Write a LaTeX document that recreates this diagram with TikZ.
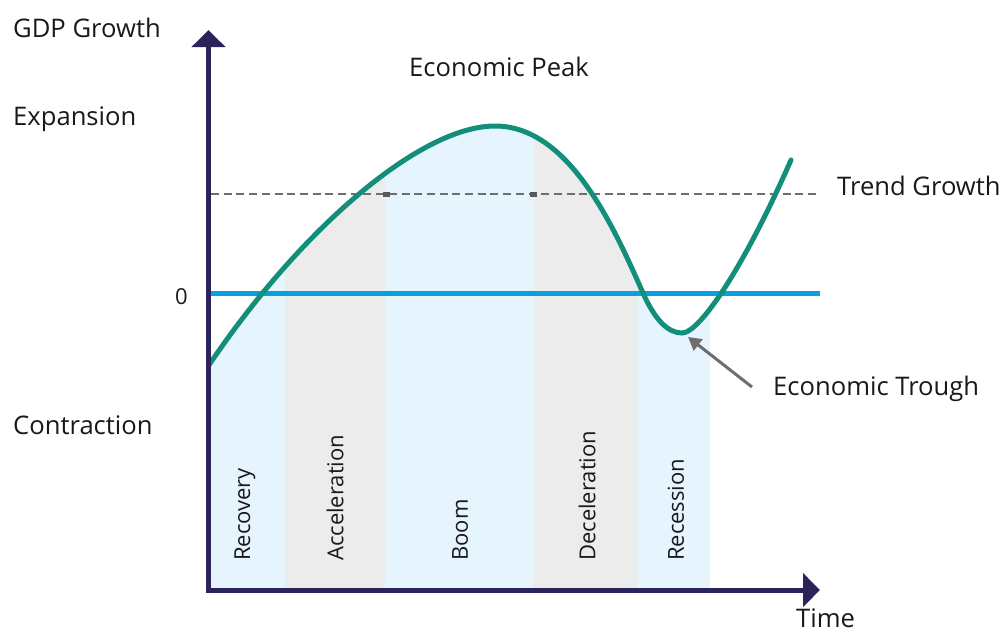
\documentclass[tikz,border=0pt]{standalone}
\usepackage{fontspec}
\setmainfont{Open Sans}
\usetikzlibrary{arrows.meta}
\definecolor{axisc}{RGB}{43,36,90}
\definecolor{tealc}{RGB}{19,142,122}
\definecolor{zeroc}{RGB}{10,160,224}
\definecolor{bandblue}{RGB}{230,244,253}
\definecolor{bandgray}{RGB}{236,236,236}
\definecolor{dashc}{RGB}{110,110,110}
\definecolor{txt}{RGB}{25,25,25}
\tikzset{
  lbl/.style={font=\fontsize{25.6}{30}\selectfont, text=txt, inner sep=0pt, anchor=base west},
  phase/.style={font=\fontsize{22}{26}\selectfont, text=txt, inner sep=0pt, rotate=90, anchor=west},
  axisline/.style={draw=axisc, line width=5pt, line join=miter,
     {Triangle[width=33pt,length=17pt]}-{Triangle[width=33pt,length=17pt]}},
  curve/.style={draw=tealc, line width=5pt, line cap=round},
}
\begin{document}
\begin{tikzpicture}[x=1pt,y=-1pt]
\useasboundingbox (0,0) rectangle (1003,632);
% bands clipped under the curve
\begin{scope}
\clip (209,365) .. controls (300,230) and (420,126) .. (495,126)
  .. controls (570,126) and (615,230) .. (643,293)
  .. controls (655,320) and (668,333) .. (682,333)
  .. controls (700,333) and (745,265) .. (791,160)
  -- (791,590) -- (209,590) -- cycle;
\fill[bandblue] (209,100) rectangle (285,590);
\fill[bandgray] (285,100) rectangle (385,590);
\fill[bandblue] (385,100) rectangle (534,590);
\fill[bandgray] (534,100) rectangle (638,590);
\fill[bandblue] (638,100) rectangle (710,590);
\end{scope}
% reference lines
\coordinate (trendL) at (211,194);
\coordinate (trendR) at (820,194);
\coordinate (zeroL) at (211,293);
\coordinate (zeroR) at (820,293);
\draw[dashc, line width=2pt, dash pattern=on 8pt off 4.7pt] (trendL) -- (trendR);
\fill[dashc!80!black] (383,191.5) rectangle (390,196.5);
\fill[dashc!80!black] (530,191.5) rectangle (537,196.5);
\draw[zeroc, line width=5pt] (zeroL) -- (zeroR);
% curve
\path[curve] (209,365) .. controls (300,230) and (420,126) .. (495,126)
  .. controls (570,126) and (615,230) .. (643,293)
  .. controls (655,320) and (668,333) .. (682,333)
  .. controls (700,333) and (745,265) .. (791,160);
% axes
\coordinate (ytip) at (208.5,30);
\coordinate (origin) at (208.5,590);
\coordinate (xtip) at (820,590);
\draw[axisline] (ytip) -- (origin) -- (xtip);
% labels
\node[lbl] (gdp) at (13,37) {GDP Growth};
\node[lbl] (exp) at (13,125) {Expansion};
\node[lbl] (con) at (13,434) {Contraction};
\node[lbl, font=\fontsize{22}{26}\selectfont] (zero) at (175,304) {0};
\node[lbl] (peak) at (409,76) {Economic Peak};
\node[lbl] (trend) at (837,195) {Trend Growth};
\node[lbl] (trough) at (773,395) {Economic Trough};
\node[lbl] (time) at (796,627) {Time};
% phases
\node[phase] (rec) at (245,561) {Recovery};
\node[phase] (acc) at (335,561) {Acceleration};
\node[phase] (boom) at (460,561) {Boom};
\node[phase] (dec) at (587,561) {Deceleration};
\node[phase] (rcs) at (676,561) {Recession};
% trough arrow
\coordinate (ttail) at (752,387);
\coordinate (ttip) at (688,337);
\draw[dashc, line width=3pt, -{Triangle[width=14pt,length=13pt]}] (ttail) -- (ttip);
\end{tikzpicture}
\end{document}
